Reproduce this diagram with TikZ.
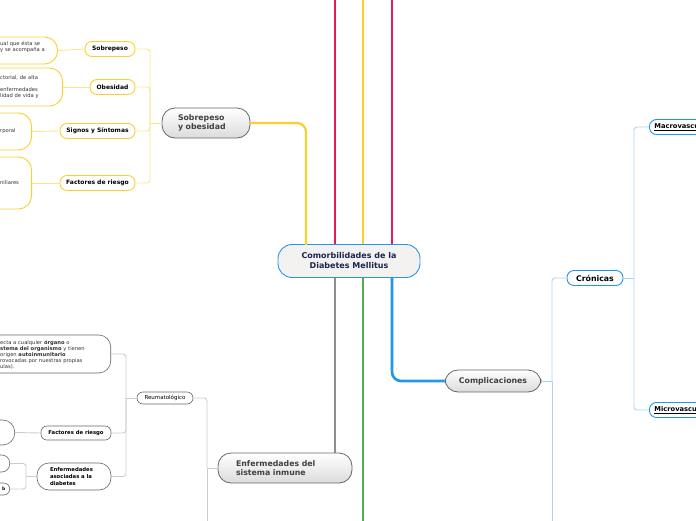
\documentclass[tikz,border=0pt]{standalone}
\usepackage{fontspec}
\setmainfont{DejaVu Sans}

\definecolor{yellowC}{HTML}{F9D030}
\definecolor{yellowL}{HTML}{FCE590}
\definecolor{pinkC}{HTML}{E6195E}
\definecolor{blueC}{HTML}{2196EC}
\definecolor{blueL}{HTML}{A9D5F5}
\definecolor{grayC}{HTML}{8E8E8E}
\definecolor{grayL}{HTML}{CCCCCC}
\definecolor{greenC}{HTML}{4CAF50}
\definecolor{navy}{HTML}{1B2550}
\definecolor{mainfill}{HTML}{F4F1F1}

\tikzset{
  mainnode/.style={draw=blueC, fill=mainfill, line width=0.9pt, rounded corners=14pt,
    minimum width=142pt, minimum height=33pt, inner sep=0pt, align=center, text=navy,
    font=\bfseries\fontsize{8}{10}\selectfont},
  topicnode/.style={draw=black!60, top color=white, bottom color=black!14, line width=0.8pt,
    rounded corners=13pt, inner sep=0pt, align=left, text=black!75,
    font=\bfseries\fontsize{7.8}{9}\selectfont},
  ysub/.style={draw=yellowC, fill=white, line width=0.9pt, rounded corners=7pt,
    minimum height=15pt, inner sep=0pt, font=\bfseries\fontsize{6}{7}\selectfont},
  ybox/.style={draw=yellowC, fill=white, line width=0.9pt, rounded corners=13pt, inner sep=0pt},
  boxtext/.style={anchor=west, inner sep=0pt, text width=140pt, align=left, text=black!80,
    font=\fontsize{5.2}{6}\selectfont},
  gsub/.style={draw=black!60, fill=white, line width=0.6pt, rounded corners=6pt,
    inner sep=0pt, font=\bfseries\fontsize{5.3}{7}\selectfont},
  gbox/.style={draw=black!60, fill=white, line width=0.6pt, rounded corners=12pt, inner sep=0pt},
  bsub/.style={draw=blueC, fill=white, line width=0.9pt, rounded corners=7pt,
    minimum height=15pt, inner sep=0pt, font=\bfseries\fontsize{7.8}{9}\selectfont},
  ylink/.style={draw=yellowL, line width=0.9pt, rounded corners=3pt},
  glink/.style={draw=grayL, line width=0.9pt, rounded corners=3pt},
  blink/.style={draw=blueL, line width=0.9pt, rounded corners=3pt},
  branch/.style={line width=2.6pt, rounded corners=9pt},
}

\begin{document}
\begin{tikzpicture}[x=1pt,y=-1pt]
\useasboundingbox (0,0) rectangle (696,520);
\clip (0,0) rectangle (696,520);

% central topic and main branches
\node[mainnode] (main) at (349,261) {Comorbilidades de la\\Diabetes Mellitus};
\coordinate (up1) at (335,-5);
\coordinate (up2) at (363,-5);
\coordinate (up3) at (392,-5);
\coordinate (down2) at (363,525);
\draw[branch, pinkC] (main.north -| up1) -- (up1);
\draw[branch, yellowC] (main.north -| up2) -- (up2);
\draw[branch, pinkC] (main.north -| up3) -- (up3);
\draw[branch, greenC] (main.south -| down2) -- (down2);

% Sobrepeso y obesidad
\node[topicnode, minimum width=88pt, minimum height=30pt, text width=56pt] (syo) at (206,123) {Sobrepeso\\y obesidad};
\coordinate (ytop) at (306,245);
\draw[branch, yellowC, line width=2.2pt] (syo.east) -| (ytop);

\node[ysub, minimum width=50pt] (sobre) at (110,49) {Sobrepeso};
\node[ysub, minimum width=45pt] (obes) at (112.5,87) {Obesidad};
\node[ysub, minimum width=75pt] (signos) at (97.5,131) {Signos y Síntomas};
\node[ysub, minimum width=75pt] (factY) at (97.5,183) {Factores de riesgo};

\coordinate (yj) at (150,123);
\draw[ylink] (syo.west) -- (yj);
\draw[ylink] (yj) |- (sobre.east);
\draw[ylink] (yj) |- (obes.east);
\draw[ylink] (yj) |- (signos.east);
\draw[ylink] (yj) |- (factY.east);

\node[ybox, anchor=east, minimum width=100pt, minimum height=27pt] (sobreBox) at (58,50.5) {};
\node[ybox, anchor=east, minimum width=100pt, minimum height=38pt] (obesBox) at (63,87) {};
\node[ybox, anchor=east, minimum width=80pt, minimum height=37pt] (signosBox) at (32,131.5) {};
\node[ybox, anchor=east, minimum width=80pt, minimum height=52pt] (factYBox) at (32,183) {};
\node[boxtext] (sobreTxt) at (0,47) {ual que ésta se\\y se acompaña a};
\node[boxtext] (obesTxt) at (0,87) {ctorial, de alta\\[6pt]enfermedades\\lidad de vida y};
\node[boxtext] (signosTxt) at (0,131) {rporal};
\node[boxtext] (factYTxt) at (0,183) {niliares};
\draw[ylink] (sobre.west) -- (sobreBox.east);
\draw[ylink] (obes.west) -- (obesBox.east);
\draw[ylink] (signos.west) -- (signosBox.east);
\draw[ylink] (factY.west) -- (factYBox.east);

% Enfermedades del sistema inmune
\node[topicnode, minimum width=134pt, minimum height=30pt, text width=98pt] (inm) at (285,468) {Enfermedades del\\sistema inmune};
\draw[branch, grayC] (main.south -| up1) -- (inm.north -| up1);

\node[gsub, font=\fontsize{5.5}{7}\selectfont, minimum width=56pt, minimum height=12pt] (reuma) at (165,398) {Reumatológico};
\coordinate (gj) at (207,468);
\coordinate (gdown) at (207,525);
\draw[glink] (inm.west) -- (gj);
\draw[glink] (gj) |- (reuma.east);
\draw[glink] (gj) -- (gdown);

\node[gbox, anchor=east, minimum width=150pt, minimum height=38pt] (autoBox) at (111,354) {};
\node[boxtext] (autoTxt) at (0,355) {ecta a cualquier \textbf{órgano} o\\\textbf{stema del organismo} y tienen\\origen \textbf{autoinmunitario}\\rovocadas por nuestras propias\\ulas).};
\node[gsub, minimum width=70pt, minimum height=14pt] (factI) at (76,433) {Factores de riesgo};
\node[gsub, minimum width=74pt, minimum height=27pt, text width=48pt, align=left, rounded corners=12pt] (enfas) at (74,476.5) {Enfermedades\\asociadas a la\\diabetes};

\coordinate (rj) at (126,398);
\draw[glink] (reuma.west) -- (rj);
\draw[glink] (rj) |- (autoBox.east);
\draw[glink] (rj) |- (factI.east);
\draw[glink] (rj) |- (enfas.east);

\node[gbox, anchor=east, minimum width=60pt, minimum height=25pt] (factIBox) at (15,432.5) {};
\draw[glink] (factI.west) -- (factIBox.east);

\node[gbox, anchor=east, minimum width=50pt, minimum height=17pt, rounded corners=8pt] (enfasA) at (10,463.5) {};
\node[gsub, anchor=east, minimum width=50pt, minimum height=12pt, font=\bfseries\fontsize{4.5}{5}\selectfont] (enfasB) at (10,489) {\hspace*{38pt}b};
\coordinate (ej) at (26,476.5);
\draw[glink] (enfas.west) -- (ej);
\draw[glink] (ej) |- (enfasA.east);
\draw[glink] (ej) |- (enfasB.east);

% Complicaciones
\node[topicnode, minimum width=96pt, minimum height=22pt, align=center] (compl) at (493,381) {Complicaciones};
\draw[branch, blueC] (main.south -| up3) |- (compl.west);

\node[bsub, minimum width=56pt] (cron) at (595,278) {Crónicas};
\coordinate (cj) at (552,381);
\coordinate (cdown) at (552,525);
\draw[blink] (compl.east) -- (cj);
\draw[blink] (cj) |- (cron.west);
\draw[blink] (cj) -- (cdown);

\node[bsub, anchor=west, minimum width=100pt, text width=90pt, align=left, font=\bfseries\fontsize{6.7}{8}\selectfont] (macro) at (649,127) {\underline{Macrovasculares}};
\node[bsub, anchor=west, minimum width=100pt, text width=90pt, align=left, font=\bfseries\fontsize{6.7}{8}\selectfont] (micro) at (649,410) {\underline{Microvasculares}};
\coordinate (kj) at (634,278);
\draw[blink] (cron.east) -- (kj);
\draw[blink] (kj) |- (macro.west);
\draw[blink] (kj) |- (micro.west);
\end{tikzpicture}
\end{document}
